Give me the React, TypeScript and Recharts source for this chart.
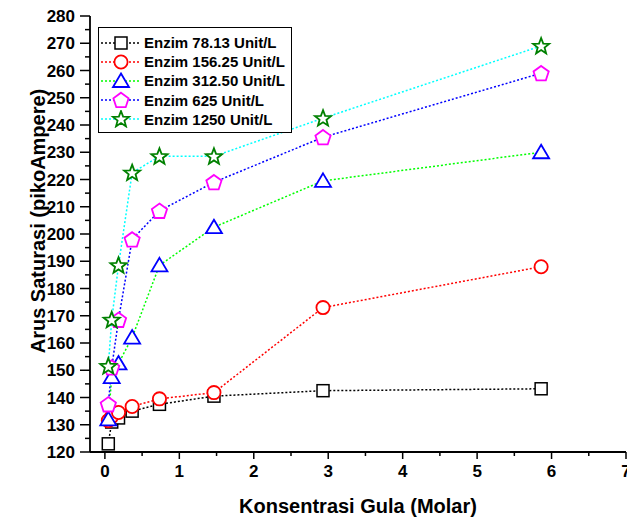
import { LineChart, Line, XAxis, YAxis, Legend, Customized } from "recharts";

// konsentrasi gula (Molar)
const CONC = [0.0458, 0.0916, 0.183, 0.366, 0.733, 1.465, 2.93, 5.86];
const E78 = [123, 131, 132.5, 135, 137.5, 140.5, 142.5, 143.2];
const E156 = [131.5, 133, 134.5, 136.7, 139.5, 141.8, 173, 188];
const E312 = [132, 147.5, 152.5, 162, 188.5, 202.5, 219.5, 230];
const E625 = [137.5, 151, 168.5, 198, 208.5, 219, 235.5, 259];
const E1250 = [151.5, 168.5, 188.5, 222.5, 228.5, 228.5, 242.5, 269];

const NAMES = ["Enzim 78.13 Unit/L", "Enzim 156.25 Unit/L", "Enzim 312.50 Unit/L", "Enzim 625 Unit/L", "Enzim 1250 Unit/L"];
const X_TICKS = [0, 0.5, 1, 1.5, 2, 2.5, 3, 3.5, 4, 4.5, 5, 5.5, 6, 6.5, 7];
const Y_TICKS = [
  120, 125, 130, 135, 140, 145, 150, 155, 160, 165, 170, 175, 180, 185, 190, 195, 200,
  205, 210, 215, 220, 225, 230, 235, 240, 245, 250, 255, 260, 265, 270, 275, 280,
];

const rows = CONC.map((x, i) => ({ x, s0: E78[i], s1: E156[i], s2: E312[i], s3: E625[i], s4: E1250[i] }));

const FONT = '"Liberation Sans", Arial, sans-serif';
const SERIES = [
  { key: "s0", line: "#000000", mark: "#000000", shape: "square" },
  { key: "s1", line: "#ff0000", mark: "#ff0000", shape: "circle" },
  { key: "s2", line: "#00ff00", mark: "#0000ff", shape: "triangle" },
  { key: "s3", line: "#0000ff", mark: "#ff00ff", shape: "pentagon" },
  { key: "s4", line: "#00ffff", mark: "#008000", shape: "star" },
];

function poly(cx: number, cy: number, n: number, r: number, r2?: number) {
  const pts: string[] = [];
  const steps = r2 ? n * 2 : n;
  for (let i = 0; i < steps; i++) {
    const a = -Math.PI / 2 + (i * 2 * Math.PI) / steps;
    const rr = r2 && i % 2 ? r2 : r;
    pts.push(`${cx + rr * Math.cos(a)},${cy + rr * Math.sin(a)}`);
  }
  return pts.join(" ");
}

function Marker({ cx, cy, shape, color }: { cx: number; cy: number; shape: string; color: string }) {
  const common = { fill: "#fff", stroke: color, strokeWidth: 1.8 };
  if (shape === "square") return <rect x={cx - 6} y={cy - 6} width={12} height={12} {...common} strokeWidth={1.5} />;
  if (shape === "circle") return <circle cx={cx} cy={cy} r={6.6} {...common} />;
  if (shape === "triangle")
    return <polygon points={`${cx},${cy - 7.5} ${cx + 8},${cy + 6} ${cx - 8},${cy + 6}`} {...common} />;
  if (shape === "pentagon") return <polygon points={poly(cx, cy + 0.7, 5, 8)} {...common} />;
  return <polygon points={poly(cx, cy + 0.5, 5, 8.5, 3.6)} {...common} />;
}

const XTick = ({ x, y, payload, top }: any) => {
  const major = Number.isInteger(payload.value);
  const len = top ? (major ? 9 : 5) : major ? 7 : 4;
  return (
    <g>
      <line x1={x} x2={x} y1={y} y2={y + len} stroke="#000" strokeWidth={1.5} />
      {!top && major && (
        <text x={x} y={y + 25} textAnchor="middle" fontFamily={FONT} fontWeight="bold" fontSize={17} fill="#000">
          {payload.value}
        </text>
      )}
    </g>
  );
};

const YTick = ({ x, y, payload, right }: any) => {
  const major = payload.value % 10 === 0;
  const len = right ? (major ? 8 : 5) : major ? 10 : 5;
  return (
    <g>
      <line x1={x - len} x2={x} y1={y} y2={y} stroke="#000" strokeWidth={1.5} />
      {!right && major && (
        <text x={x - 15} y={y + 6} textAnchor="end" fontFamily={FONT} fontWeight="bold" fontSize={17} fill="#000">
          {payload.value}
        </text>
      )}
    </g>
  );
};

const LegendBox = () => (
  <div
    style={{
      width: 194,
      boxSizing: "border-box",
      border: "1px solid #000",
      background: "#fff",
      padding: "5px 0 3px 1px",
      fontFamily: FONT,
    }}
  >
    {SERIES.map((s, i) => (
      <div key={s.key} style={{ display: "flex", alignItems: "center", height: 19.2 }}>
        <svg width={42} height={18} style={{ marginRight: 2, flexShrink: 0 }}>
          <line x1={1} x2={41} y1={9} y2={9} stroke={s.line} strokeWidth={1.5} strokeDasharray="2 2" />
          <Marker cx={21} cy={9} shape={s.shape} color={s.mark} />
        </svg>
        <span style={{ fontSize: 15, fontWeight: "bold", color: "#000", whiteSpace: "nowrap" }}>{NAMES[i]}</span>
      </div>
    ))}
  </div>
);

const Titles = () => (
  <g fontFamily={FONT} fontWeight="bold" fontSize={20} fill="#000">
    <text x={358} y={513} textAnchor="middle">Konsentrasi Gula (Molar)</text>
    <text x={45} y={221} textAnchor="middle" transform="rotate(-90, 45, 221)">Arus Saturasi (pikoAmpere)</text>
  </g>
);

export default function App() {
  return (
    <div style={{ position: "absolute", left: 0, top: 0, width: 627, height: 523, background: "#fff" }}>
      <LineChart width={627} height={523} data={rows} margin={{ top: 16, right: 1, left: 0, bottom: 0 }}>
        <XAxis
          xAxisId="b"
          type="number"
          dataKey="x"
          domain={[-0.2, 7]}
          allowDataOverflow
          ticks={X_TICKS}
          interval={0}
          height={71}
          tickSize={0}
          tickMargin={0}
          tickLine={false}
          axisLine={{ stroke: "#000", strokeWidth: 1.8 }}
          tick={<XTick />}
        />
        <XAxis
          xAxisId="t"
          orientation="top"
          mirror
          type="number"
          dataKey="x"
          domain={[-0.2, 7]}
          allowDataOverflow
          ticks={X_TICKS}
          interval={0}
          height={0}
          tickSize={0}
          tickMargin={0}
          tickLine={false}
          axisLine={{ stroke: "#000", strokeWidth: 1.8 }}
          tick={<XTick top />}
        />
        <YAxis
          yAxisId="l"
          domain={[120, 280]}
          allowDataOverflow
          ticks={Y_TICKS}
          interval={0}
          width={90}
          tickSize={0}
          tickMargin={0}
          tickLine={false}
          axisLine={{ stroke: "#000", strokeWidth: 1.8 }}
          tick={<YTick />}
        />
        <YAxis
          yAxisId="r"
          orientation="right"
          mirror
          domain={[120, 280]}
          allowDataOverflow
          ticks={Y_TICKS}
          interval={0}
          width={0}
          tickSize={0}
          tickMargin={0}
          tickLine={false}
          axisLine={{ stroke: "#000", strokeWidth: 1.8 }}
          tick={<YTick right />}
        />
        {SERIES.map((s, i) => (
          <Line
            key={s.key}
            xAxisId="b"
            yAxisId="l"
            dataKey={s.key}
            name={NAMES[i]}
            stroke={s.line}
            strokeWidth={1.5}
            strokeDasharray="2 2"
            isAnimationActive={false}
            activeDot={false}
            dot={(p: any) => <Marker key={`${s.key}-${p.index}`} cx={p.cx} cy={p.cy} shape={s.shape} color={s.mark} />}
          />
        ))}
        <Legend
          layout="vertical"
          align="center"
          verticalAlign="middle"
          content={<LegendBox />}
          wrapperStyle={{ left: 98, top: 27, width: "auto" }}
        />
        <Customized component={<Titles />} />
      </LineChart>
    </div>
  );
}
